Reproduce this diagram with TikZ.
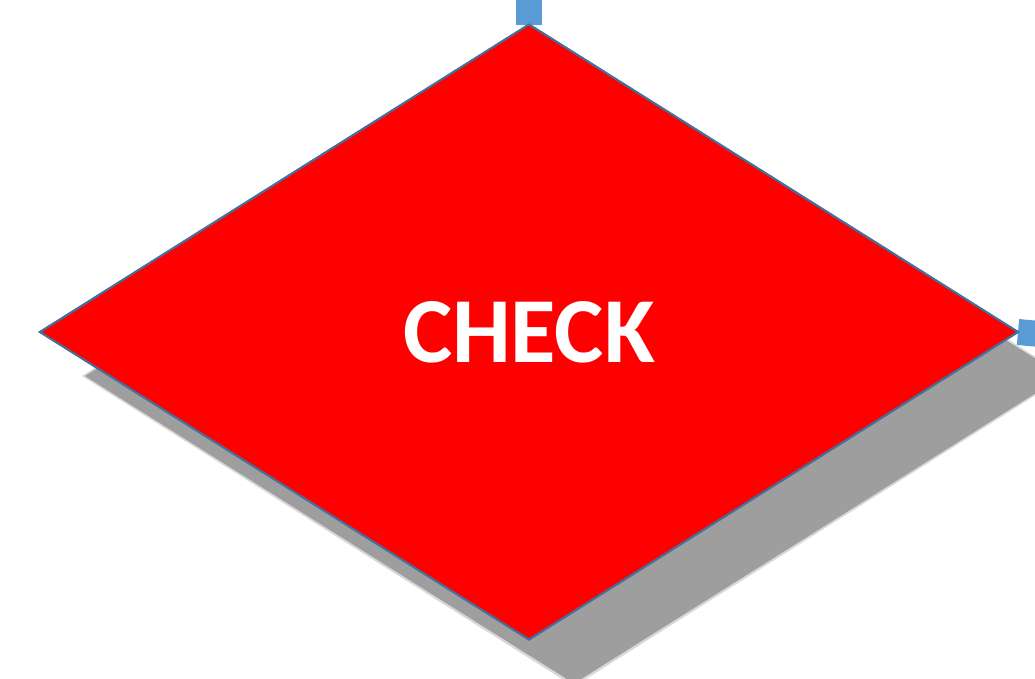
\documentclass[tikz,border=0pt]{standalone}
\usepackage{fontspec}
\setmainfont{Carlito}
\usetikzlibrary{shapes.geometric}
\definecolor{conn}{HTML}{5B9BD5}
\definecolor{edge}{HTML}{41719C}
\definecolor{shade}{HTML}{9E9E9E}
\tikzset{
  connector/.style={draw=conn, line width=26pt},
  checkbox/.style={diamond, draw=edge, line width=2pt, fill=red, minimum width=978pt, minimum height=615pt, inner sep=0pt, outer sep=0pt, text=white, font=\fontsize{93}{100}\selectfont\bfseries},
  shadowbox/.style={diamond, fill=shade, minimum width=978pt, minimum height=615pt, inner sep=0pt, outer sep=0pt},
}
\begin{document}
\begin{tikzpicture}[x=1pt,y=-1pt]
\useasboundingbox (0,0) rectangle (1035,678);
\node[shadowbox, fill=shade!40, minimum width=984pt, minimum height=621pt] (sh0) at (574,376) {};
\node[shadowbox] (sh) at (574,376) {};
\coordinate (top) at (529,-5);
\coordinate (right) at (1040,334);
\node[checkbox] (check) at (529,332) {};
\draw[connector] (top) -- (check.north);
\draw[connector] (right) -- (check.east);
\node[checkbox] (check2) at (529,332) {CHECK};
\end{tikzpicture}
\end{document}
